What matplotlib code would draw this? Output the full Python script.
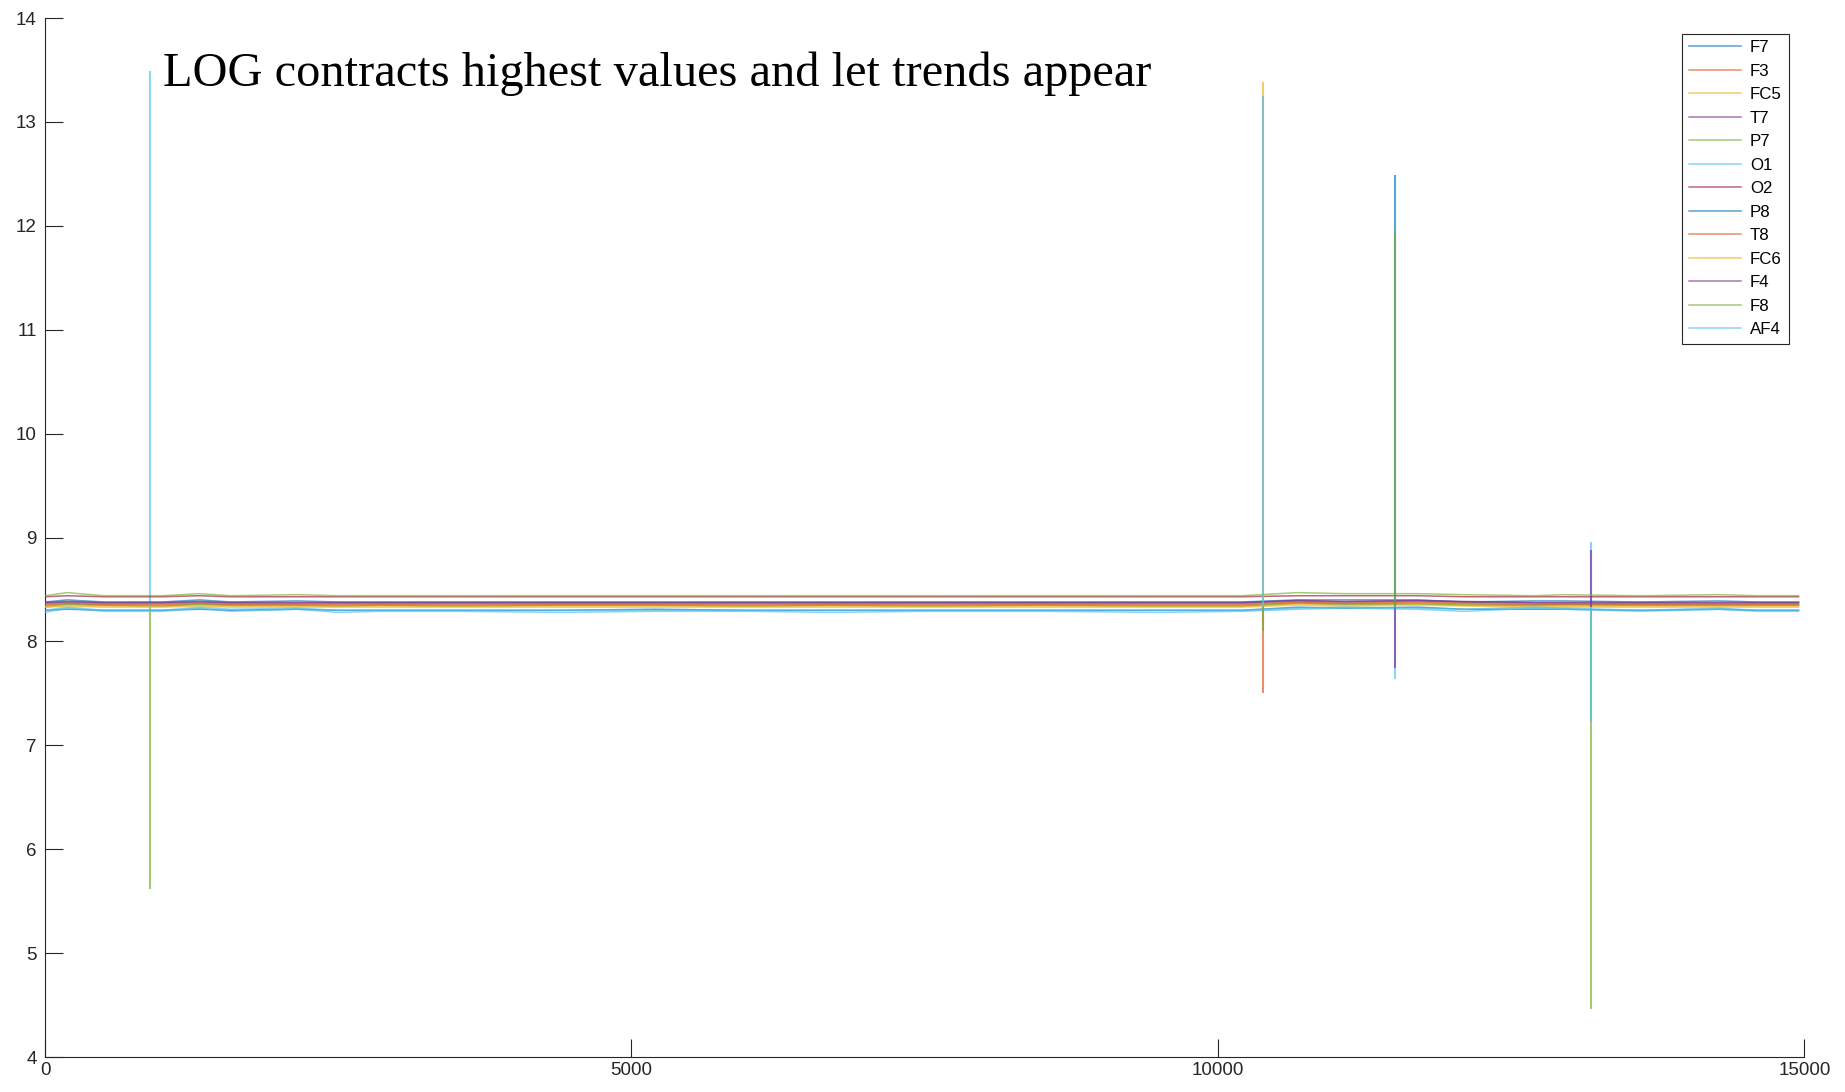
import matplotlib.pyplot as plt

channels = ["F7", "F3", "FC5", "T7", "P7", "O1", "O2", "P8", "T8", "FC6", "F4", "F8", "AF4"]
colors = ["#0072bd", "#d95319", "#edb120", "#7e2f8e", "#77ac30", "#4dbeee", "#a2142f",
          "#0072bd", "#d95319", "#edb120", "#7e2f8e", "#77ac30", "#4dbeee"]

# sample positions of the (log) signal
samples = [0, 190, 500, 1000, 1320, 1580, 2150, 2500, 2860, 3500, 4400, 5200, 6000, 6700,
           7500, 8500, 9500, 10200, 10680, 11080, 11700, 12100, 12700, 12950, 13600, 14270,
           14600, 14950]

f7 = [8.30, 8.31, 8.30, 8.30, 8.31, 8.30, 8.31, 8.30, 8.30, 8.30, 8.30, 8.31, 8.30, 8.30,
      8.30, 8.30, 8.30, 8.30, 8.33, 8.32, 8.33, 8.31, 8.31, 8.31, 8.30, 8.31, 8.30, 8.30]
f3 = [8.35, 8.36, 8.35, 8.35, 8.36, 8.35, 8.35, 8.35, 8.35, 8.35, 8.35, 8.35, 8.35, 8.35,
      8.35, 8.35, 8.35, 8.35, 8.37, 8.36, 8.37, 8.36, 8.35, 8.35, 8.35, 8.35, 8.35, 8.35]
fc5 = [8.33, 8.35, 8.34, 8.34, 8.35, 8.34, 8.34, 8.34, 8.34, 8.34, 8.34, 8.34, 8.34, 8.34,
       8.34, 8.34, 8.34, 8.34, 8.36, 8.35, 8.36, 8.35, 8.34, 8.34, 8.34, 8.34, 8.34, 8.34]
t7 = [8.37, 8.38, 8.37, 8.37, 8.38, 8.37, 8.37, 8.37, 8.37, 8.37, 8.37, 8.37, 8.37, 8.37,
      8.37, 8.37, 8.37, 8.37, 8.39, 8.38, 8.39, 8.38, 8.37, 8.37, 8.37, 8.37, 8.37, 8.37]
p7 = [8.34, 8.36, 8.35, 8.34, 8.36, 8.35, 8.35, 8.34, 8.35, 8.34, 8.35, 8.35, 8.34, 8.35,
      8.34, 8.35, 8.34, 8.34, 8.37, 8.36, 8.36, 8.35, 8.35, 8.36, 8.35, 8.35, 8.35, 8.35]
o1 = [8.28, 8.32, 8.29, 8.29, 8.32, 8.29, 8.31, 8.28, 8.29, 8.29, 8.28, 8.29, 8.29, 8.28,
      8.29, 8.29, 8.28, 8.29, 8.31, 8.32, 8.31, 8.29, 8.32, 8.31, 8.29, 8.31, 8.29, 8.29]
o2 = [8.43, 8.44, 8.43, 8.43, 8.44, 8.43, 8.43, 8.43, 8.43, 8.43, 8.43, 8.43, 8.43, 8.43,
      8.43, 8.43, 8.43, 8.43, 8.44, 8.44, 8.44, 8.43, 8.43, 8.43, 8.43, 8.43, 8.43, 8.43]
p8 = [8.38, 8.40, 8.38, 8.38, 8.40, 8.38, 8.39, 8.38, 8.38, 8.38, 8.38, 8.38, 8.38, 8.38,
      8.38, 8.38, 8.38, 8.38, 8.40, 8.40, 8.40, 8.38, 8.39, 8.39, 8.38, 8.39, 8.38, 8.38]
t8 = [8.36, 8.37, 8.36, 8.36, 8.37, 8.36, 8.36, 8.36, 8.36, 8.36, 8.36, 8.36, 8.36, 8.36,
      8.36, 8.36, 8.36, 8.36, 8.38, 8.37, 8.38, 8.37, 8.36, 8.36, 8.36, 8.36, 8.36, 8.36]
fc6 = [8.33, 8.34, 8.33, 8.33, 8.34, 8.33, 8.33, 8.33, 8.33, 8.33, 8.33, 8.33, 8.33, 8.33,
       8.33, 8.33, 8.33, 8.33, 8.35, 8.34, 8.35, 8.34, 8.33, 8.33, 8.33, 8.33, 8.33, 8.33]
f4 = [8.375, 8.385, 8.375, 8.375, 8.385, 8.375, 8.375, 8.375, 8.375, 8.375, 8.375, 8.375, 8.375, 8.375,
      8.375, 8.375, 8.375, 8.375, 8.395, 8.385, 8.395, 8.385, 8.375, 8.375, 8.375, 8.375, 8.375, 8.375]
f8 = [8.44, 8.47, 8.44, 8.44, 8.46, 8.44, 8.45, 8.44, 8.44, 8.44, 8.44, 8.44, 8.44, 8.44,
      8.44, 8.44, 8.44, 8.44, 8.47, 8.46, 8.46, 8.45, 8.44, 8.45, 8.44, 8.45, 8.44, 8.44]
af4 = [8.30, 8.33, 8.30, 8.30, 8.33, 8.31, 8.32, 8.30, 8.30, 8.30, 8.30, 8.30, 8.30, 8.30,
       8.30, 8.30, 8.30, 8.30, 8.32, 8.33, 8.32, 8.31, 8.33, 8.32, 8.30, 8.32, 8.30, 8.30]

values = [f7, f3, fc5, t7, p7, o1, o2, p8, t8, fc6, f4, f8, af4]

# artefact spikes: channel, sample, from, to
spike_channel = ["O1", "P7", "FC6", "AF4", "T8", "F8", "P8", "F8", "O1", "F4", "P7", "O1", "F4", "O1"]
spike_x = [893, 893, 10385, 10385, 10385, 10385, 11508, 11508, 11508, 11508, 13184, 13184, 13184, 13184]
spike_from = [8.33, 8.33, 8.33, 8.33, 8.33, 8.33, 8.33, 8.33, 8.33, 8.33, 8.33, 8.33, 8.33, 8.33]
spike_to = [13.49, 5.62, 13.38, 13.25, 7.50, 8.10, 12.49, 11.94, 7.64, 7.74, 4.46, 7.22, 8.88, 8.96]

fig = plt.figure(figsize=(18.45, 10.92), dpi=100)
ax = fig.add_axes([0.0244, 0.032, 0.9536, 0.9515])

for i, (name, col, vals) in enumerate(zip(channels, colors, values)):
    ax.plot(samples, vals, color=col, lw=1.1, alpha=0.65, label=name, zorder=2 + i)
    for ch, sx, y0, y1 in zip(spike_channel, spike_x, spike_from, spike_to):
        if ch == name:
            ax.vlines(sx, y0, y1, color=col, lw=1.5, alpha=0.65, zorder=2 + i)

ax.set_xlim(0, 15000)
ax.set_ylim(4, 14)
ax.set_xticks([0, 5000, 10000, 15000])
ax.set_yticks(range(4, 15))
for s in ["top", "right"]:
    ax.spines[s].set_visible(False)
for s in ["left", "bottom"]:
    ax.spines[s].set_color("#262626")
    ax.spines[s].set_linewidth(0.8)
ax.tick_params(direction="in", length=13, width=0.8, color="#262626",
               labelcolor="#262626", labelsize=13.5)
ax.tick_params(axis="y", pad=6)
for lab in ax.get_xticklabels() + ax.get_yticklabels():
    lab.set_family("Liberation Sans")

ax.text(0.067, 0.935, "LOG contracts highest values and let trends appear",
        transform=ax.transAxes, family="Liberation Serif", fontsize=34.8,
        ha="left", va="baseline")

leg = ax.legend(loc="upper right", bbox_to_anchor=(0.991, 0.985), borderaxespad=0,
                handlelength=3.1, handletextpad=0.5, labelspacing=0.5, fancybox=False,
                edgecolor="#262626", framealpha=1, prop={"family": "Liberation Sans", "size": 12.2})
leg.get_frame().set_linewidth(0.8)

fig.savefig("out.png", dpi=100)
